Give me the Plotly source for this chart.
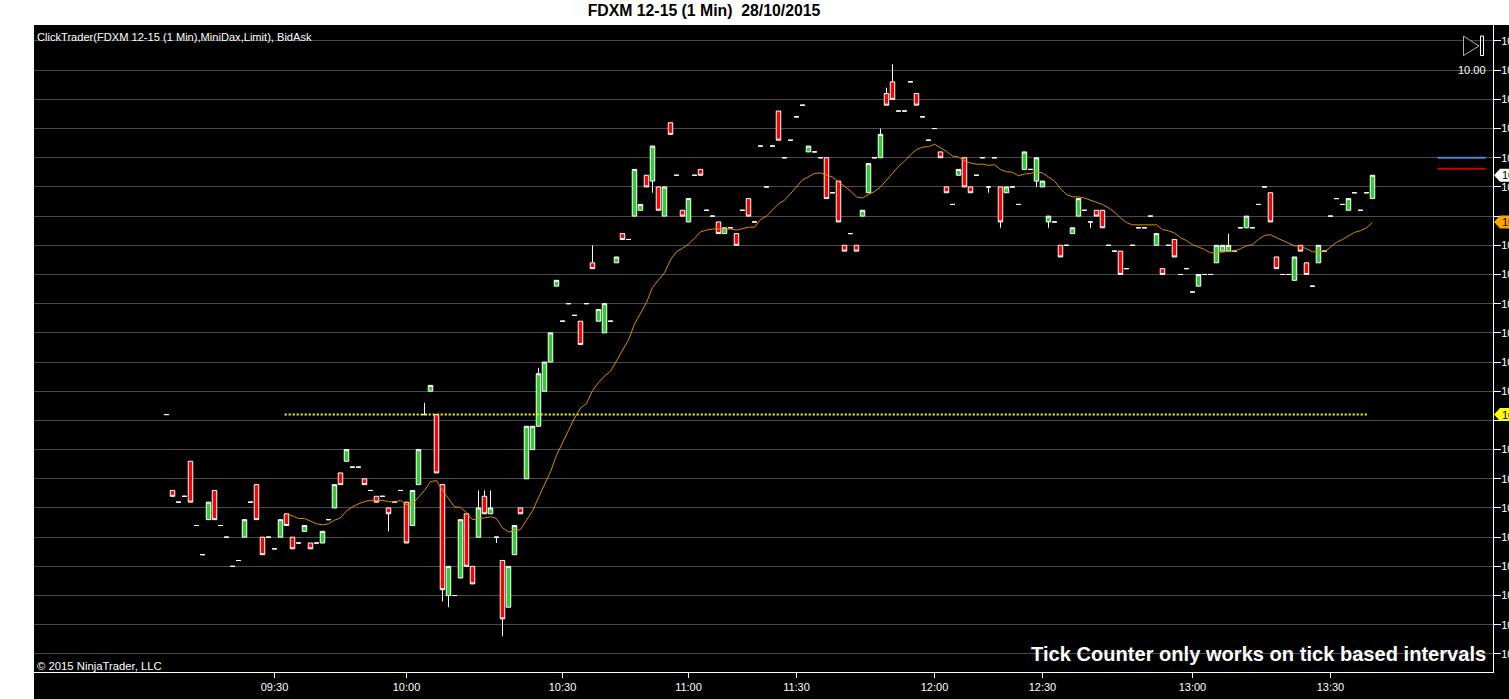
import plotly.graph_objects as go

W, H = 1509, 699
L, R, T, B = 34, 1493, 25, 672

opens = [10736,10723,10721,10722,10728,10717,10712,10718,10723,10717,
 10715,10710,10711,10715,10721,10724,10715,10715,10713,10715,
 10719,10715,10714,10716,10714,10714,10714,10718,10720,10726,
 10728,10727,10727,10725,10723,10722,10722,10720,10721,10723,
 10721,10717,10724,10736,10740,10736,10724,10705,10705,10708,
 10719,10710,10715,10722,10719,10715,10711,10703,10712,10720,
 10725,10730,10734,10740,10745,10758,10752,10755,10753,10752,
 10755,10762,10752,10750,10752,10762,10767,10766,10770,10771,
 10777,10776,10775,10770,10786,10777,10771,10769,10777,10778,
 10771,10770,10769,10767,10768,10767,10771,10773,10769,10782,
 10775,10782,10788,10780,10783,10787,10789,10781,10781,10780,
 10780,10774,10776,10765,10767,10765,10770,10774,10780,10780,
 10791,10793,10788,10788,10793,10791,10787,10783,10785,10781,
 10775,10772,10777,10780,10775,10777,10780,10775,10780,10775,
 10774,10775,10772,10778,10778,10776,10775,10769,10769,10765,
 10765,10767,10770,10771,10769,10771,10771,10765,10764,10764,
 10761,10765,10768,10768,10770,10765,10761,10765,10766,10760,
 10761,10757,10758,10760,10760,10762,10764,10764,10764,10768,
 10768,10768,10772,10775,10774,10763,10760,10760,10759,10765,
 10762,10758,10762,10764,10770,10773,10772,10771,10774,10771,
 10774,10773]
closes = [10736,10722,10721,10722,10721,10717,10712,10721,10718,10717,
 10715,10710,10711,10718,10721,10718,10712,10715,10713,10718,
 10717,10713,10714,10717,10713,10714,10716,10718,10724,10724,
 10730,10727,10727,10724,10723,10721,10722,10719,10721,10723,
 10714,10723,10730,10736,10741,10726,10706,10710,10705,10718,
 10710,10707,10720,10719,10720,10715,10701,10710,10717,10719,
 10734,10734,10743,10745,10750,10759,10752,10755,10753,10748,
 10755,10761,10754,10755,10752,10763,10766,10766,10778,10772,
 10775,10782,10771,10775,10784,10777,10770,10773,10777,10777,
 10771,10770,10767,10768,10768,10765,10771,10770,10769,10782,
 10775,10782,10783,10780,10783,10787,10789,10782,10781,10780,
 10773,10774,10769,10764,10767,10764,10771,10779,10780,10784,
 10789,10790,10788,10788,10793,10789,10787,10783,10785,10780,
 10774,10772,10778,10775,10774,10777,10780,10775,10780,10769,
 10775,10775,10772,10781,10778,10780,10776,10770,10769,10763,
 10765,10768,10773,10771,10769,10770,10768,10765,10764,10760,
 10761,10765,10768,10768,10770,10767,10760,10765,10763,10760,
 10761,10757,10760,10760,10760,10765,10765,10765,10764,10768,
 10770,10768,10772,10775,10769,10761,10760,10760,10763,10764,
 10760,10758,10765,10764,10770,10773,10772,10773,10774,10771,
 10774,10777]
high_wicks = {43:10738, 52:10723, 53:10723, 54:10723, 62:10744, 71:10765,
              119:10785, 120:10792, 121:10796, 177:10767}
low_wicks = {37:10716, 46:10704, 47:10703, 55:10714, 56:10698, 81:10774,
             137:10774, 139:10768, 145:10775, 147:10768, 154:10768}

ma_start = 20
ma_values = [10719.1,10718.6,10718.2,10718.2,10717.7,10717.3,10717.1,10717.3,10717.9,10718.3,
 10719.5,10720.2,10720.7,10721.1,10721.3,10721.3,10721.3,10721.1,10721.0,10721.3,
 10720.6,10720.7,10721.8,10723.0,10724.5,10724.7,10723.0,10721.6,10720.2,10720.1,
 10719.2,10718.0,10718.1,10718.3,10718.5,10718.2,10716.6,10715.9,10716.1,10716.3,
 10717.9,10719.5,10721.8,10723.9,10726.2,10729.0,10731.3,10733.3,10735.4,10737.1,
 10737.9,10740.1,10741.5,10742.6,10743.4,10745.2,10747.0,10748.8,10751.5,10753.4,
 10755.2,10757.8,10759.1,10760.3,10762.5,10763.9,10764.5,10765.2,10766.2,10767.3,
 10767.6,10767.8,10767.8,10767.8,10767.8,10767.6,10767.9,10768.1,10768.1,10769.4,
 10770.0,10771.0,10772.1,10772.7,10773.8,10775.0,10776.2,10776.7,10777.3,10777.4,
 10777.0,10776.7,10775.9,10775.1,10774.3,10773.3,10773.1,10773.7,10774.2,10775.0,
 10776.2,10777.4,10778.5,10779.4,10780.5,10781.4,10781.8,10781.9,10782.3,10781.7,
 10781.1,10780.3,10780.1,10779.5,10779.1,10778.9,10778.9,10778.7,10778.8,10778.0,
 10777.6,10777.5,10776.9,10777.2,10777.3,10777.6,10777.4,10776.7,10776.0,10774.7,
 10773.7,10773.3,10773.3,10773.1,10772.7,10772.4,10772.0,10771.4,10770.7,10769.7,
 10768.9,10768.5,10768.5,10768.5,10768.5,10768.5,10767.7,10767.5,10767.1,10766.3,
 10765.8,10765.1,10764.7,10764.3,10763.7,10763.8,10763.9,10763.9,10764.0,10764.4,
 10764.9,10765.1,10766.0,10766.7,10766.8,10766.3,10765.8,10765.3,10764.9,10764.9,
 10764.4,10763.9,10763.9,10763.9,10764.7,10765.5,10766.0,10766.6,10767.2,10767.5,
 10768.0,10768.9]

time_ticks = [18, 40, 66, 87, 105, 128, 146, 171, 194]
time_labels = ["09:30","10:00","10:30","11:00","11:30","12:00","12:30","13:00","13:30"]
price_ticks = list(range(10695, 10805, 5))
covered_ticks = [10735, 10770]
y_range = [10691.9, 10802.74]
x_range = [-22.083, 221.087]

level_price = 10736
level_span = [19.7, 200.2]
blue_price, red_price = 10780, 10778.1
side_span = [211.85, 219.9]
callouts = [(10777, "#ffffff"), (10769, "#ffa500"), (10736, "#ffff00")]

bars = list(range(len(opens)))
highs = [high_wicks.get(i, max(opens[i], closes[i])) for i in bars]
lows = [low_wicks.get(i, min(opens[i], closes[i])) for i in bars]


def px(x):
    return (x - L) / (R - L)


def py(y):
    return (B - y) / (B - T)


FONT = "Liberation Sans"
fig = go.Figure()
fig.add_trace(go.Candlestick(
    x=bars, open=opens, high=highs, low=lows, close=closes,
    increasing=dict(fillcolor="#32cd32", line=dict(color="#ffffff", width=1)),
    decreasing=dict(fillcolor="#ff0000", line=dict(color="#ffffff", width=1)),
    whiskerwidth=0, hoverinfo="skip", showlegend=False))
fig.add_trace(go.Scatter(x=level_span, y=[level_price, level_price], mode="lines",
                         line=dict(color="#ffff00", width=2, dash="2px 2px"),
                         hoverinfo="skip", showlegend=False))
fig.add_trace(go.Scatter(x=list(range(ma_start, ma_start + len(ma_values))), y=ma_values,
                         mode="lines", line=dict(color="#e08c00", width=1),
                         hoverinfo="skip", showlegend=False))
fig.add_trace(go.Scatter(x=side_span, y=[blue_price, blue_price], mode="lines",
                         line=dict(color="#4f81d8", width=2), hoverinfo="skip", showlegend=False))
fig.add_trace(go.Scatter(x=side_span, y=[red_price, red_price], mode="lines",
                         line=dict(color="#d00000", width=2), hoverinfo="skip", showlegend=False))

shapes = [dict(type="rect", xref="paper", yref="paper", x0=0, x1=px(W + 5), y0=py(H + 5), y1=1,
               fillcolor="#000000", line=dict(width=0), layer="below"),
          dict(type="path", xref="paper", yref="paper",
               path=f"M{px(1463.5)},{py(36)} L{px(1479)},{py(46)} L{px(1463.5)},{py(55.5)} Z",
               line=dict(color="#b0b0b0", width=1), fillcolor="#000000"),
          dict(type="rect", xref="paper", yref="paper", x0=px(1480.5), x1=px(1483.5),
               y0=py(55.5), y1=py(36), line=dict(color="#ffffff", width=1))]
half = 6.5 * (y_range[1] - y_range[0]) / (B - T)
annotations = []
for price, color in callouts:
    shapes.append(dict(type="path", xref="paper", yref="y",
                       path=(f"M{px(1494)},{price} L{px(1500)},{price + half} L{px(1515)},{price + half} "
                             f"L{px(1515)},{price - half} L{px(1500)},{price - half} Z"),
                       fillcolor=color, line=dict(width=0)))
    annotations.append(dict(xref="paper", yref="y", x=px(1500), y=price, text="10", showarrow=False,
                            xanchor="left", yanchor="middle", font=dict(family=FONT, size=11, color="#000000")))


def note(x, y, text, anchor="left", size=11, color="#ffffff"):
    annotations.append(dict(xref="paper", yref="paper", x=px(x), y=py(y), text=text, showarrow=False,
                            xanchor=anchor, yanchor="middle", xshift=0,
                            font=dict(family=FONT, size=size, color=color)))


note(35, 37, "ClickTrader(FDXM 12-15 (1 Min),MiniDax,Limit), BidAsk", size=11.1)
note(35, 666, "© 2015 NinjaTrader, LLC", size=11.3)
note(1472, 70, "10.00", anchor="center")
note(1487.5, 654, "<b>Tick Counter only works on tick based intervals</b>", anchor="right", size=20.1)

fig.update_layout(
    width=W, height=H, margin=dict(l=L, r=W - R, t=T, b=H - B, pad=0, autoexpand=False),
    paper_bgcolor="#ffffff", plot_bgcolor="#000000", showlegend=False,
    boxgap=0.25, boxgroupgap=0,
    title=dict(text="<b>FDXM 12-15 (1 Min)\u00a0\u00a028/10/2015</b>", x=704 / W, y=1 - 10 / H,
               xanchor="center", yanchor="middle", xref="container", yref="container",
               font=dict(family=FONT, size=15.8, color="#000000")),
    xaxis=dict(range=x_range, rangeslider=dict(visible=False), tickmode="array",
               tickvals=time_ticks, ticktext=time_labels, showgrid=False, zeroline=False,
               showline=True, linecolor="#ffffff", linewidth=1, ticks="outside", ticklen=5,
               tickcolor="#ffffff", tickwidth=1, tickfont=dict(family=FONT, size=11, color="#ffffff")),
    yaxis=dict(range=y_range, side="right", tickmode="array", tickvals=price_ticks,
               ticktext=["" if p in covered_ticks else "10" for p in price_ticks],
               showgrid=True, gridcolor="#4a4a4a", gridwidth=1,
               zeroline=False, showline=True, linecolor="#ffffff", linewidth=1, ticks="outside",
               ticklen=7, tickcolor="#ffffff", tickwidth=1, ticklabelstandoff=-2,
               tickfont=dict(family=FONT, size=11, color="#ffffff")),
    shapes=shapes, annotations=annotations,
)
fig.write_html("out.html", config={"displayModeBar": False},
               post_script="document.body.style.margin='0';document.documentElement.style.overflow='hidden';")
